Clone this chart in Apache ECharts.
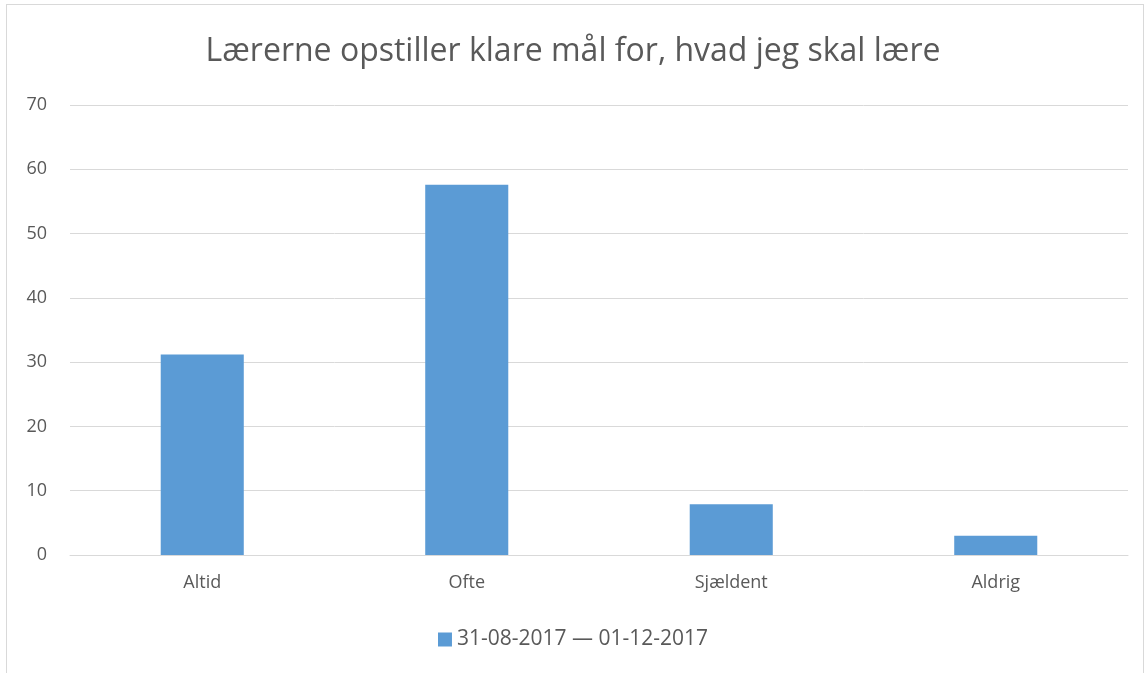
<!DOCTYPE html>
<html>
<head>
<meta charset="utf-8">
<script src="https://cdn.jsdelivr.net/npm/echarts@6/dist/echarts.min.js"></script>
<style>
  html, body { margin: 0; padding: 0; background: #fff; }
  #frame { position: absolute; left: 6px; top: 4px; width: 1138px; height: 670px; border: 1px solid #d9d9d9; box-sizing: border-box; }
  #chart { position: absolute; left: 0; top: 0; width: 1146px; height: 673px; }
</style>
</head>
<body>
<div id="frame"></div>
<div id="chart"></div>
<script>
const titleText = 'Lærerne opstiller klare mål for, hvad jeg skal lære';
const categories = ['Altid', 'Ofte', 'Sjældent', 'Aldrig'];
const seriesName = '31-08-2017 — 01-12-2017';
const values = [31.2, 57.6, 7.9, 3.0];

const font = 'Open Sans';
const chart = echarts.init(document.getElementById('chart'), null, { renderer: 'canvas' });
chart.setOption({
  animation: false,
  title: {
    text: titleText,
    left: 'center',
    top: 31,
    textStyle: { fontFamily: font, fontSize: 32, fontWeight: 'normal', color: '#595959' }
  },
  legend: {
    bottom: 18,
    left: 'center',
    itemWidth: 14,
    itemHeight: 14,
    itemGap: 6,
    icon: 'rect',
    textStyle: { fontFamily: font, fontSize: 21, color: '#595959' },
    data: [seriesName]
  },
  grid: { left: 70, right: 18, top: 105, bottom: 118, containLabel: false },
  xAxis: {
    type: 'category',
    data: categories,
    axisLine: { show: true, lineStyle: { color: '#d9d9d9', width: 1 } },
    axisTick: { show: false },
    axisLabel: { fontFamily: font, fontSize: 18, color: '#595959', margin: 19 }
  },
  yAxis: {
    type: 'value',
    min: 0,
    max: 70,
    interval: 10,
    axisLine: { show: false },
    axisTick: { show: false },
    axisLabel: { fontFamily: font, fontSize: 18, color: '#595959', margin: 23 },
    splitLine: { lineStyle: { color: '#d9d9d9', width: 1 } }
  },
  series: [{
    name: seriesName,
    type: 'bar',
    data: values,
    barWidth: '31.4%',
    itemStyle: { color: '#5b9bd5' }
  }]
});
</script>
</body>
</html>
